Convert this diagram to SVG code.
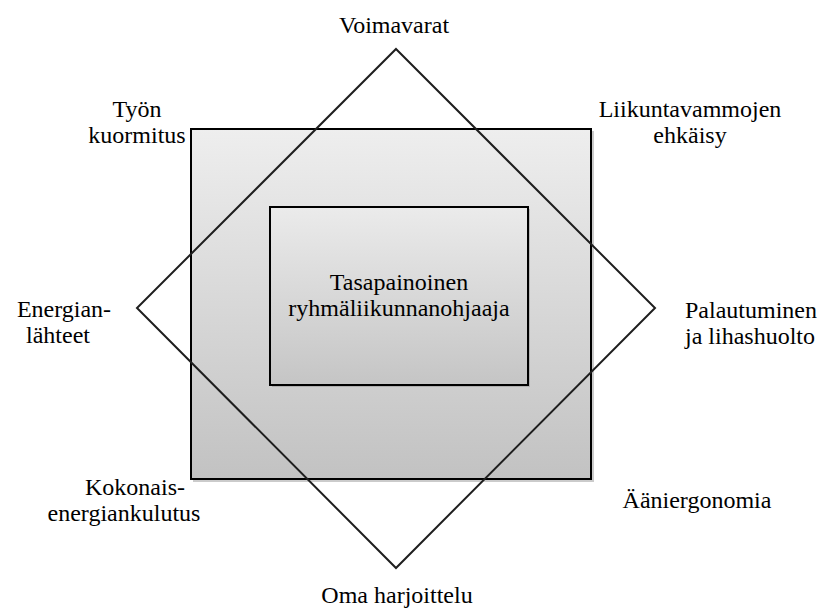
<svg xmlns="http://www.w3.org/2000/svg" width="822" height="612" viewBox="0 0 822 612">
<defs>
<linearGradient id="gOuter" x1="0" y1="0" x2="0" y2="1">
<stop offset="0" stop-color="#eeeeee"/>
<stop offset="1" stop-color="#c2c2c2"/>
</linearGradient>
<linearGradient id="gInner" x1="0" y1="0" x2="0" y2="1">
<stop offset="0" stop-color="#ebebeb"/>
<stop offset="1" stop-color="#c5c5c5"/>
</linearGradient>
<style>
text{font-family:"Liberation Serif","Times New Roman",serif;font-size:24px;fill:#000;text-anchor:middle}
.start{text-anchor:start}
.box{stroke:#000;stroke-width:2}
.shadow{fill:#8c8c8c;opacity:0.45}
.dia{fill:none;stroke:#1e1e1e;stroke-width:2}
</style>
</defs>
<g id="outer-box">
<rect class="shadow" x="193" y="131" width="401" height="351"/>
<rect class="box" x="191" y="129" width="400" height="350" fill="url(#gOuter)"/>
</g>
<g id="inner-box">
<rect class="shadow" x="272" y="209" width="258" height="178"/>
<rect class="box" x="270" y="207" width="258" height="178" fill="url(#gInner)"/>
<text x="399" y="290">Tasapainoinen</text>
<text x="399" y="316">ryhmäliikunnanohjaaja</text>
</g>
<g id="diamond">
<polygon class="dia" points="396,49 655,308 396,568 137,308"/>
</g>
<g id="label-voimavarat"><text x="394" y="33">Voimavarat</text></g>
<g id="label-tyon"><text x="137" y="117">Työn</text><text x="137" y="143">kuormitus</text></g>
<g id="label-liikunta"><text x="690" y="117">Liikuntavammojen</text><text x="690" y="143">ehkäisy</text></g>
<g id="label-energian"><text x="64" y="317">Energian-</text><text x="58" y="343">lähteet</text></g>
<g id="label-palautuminen"><text class="start" x="685" y="318">Palautuminen</text><text class="start" x="685" y="344">ja lihashuolto</text></g>
<g id="label-kokonais"><text x="135" y="495">Kokonais-</text><text x="124" y="521">energiankulutus</text></g>
<g id="label-aani"><text x="697" y="508">Ääniergonomia</text></g>
<g id="label-oma"><text x="397" y="603">Oma harjoittelu</text></g>
</svg>
